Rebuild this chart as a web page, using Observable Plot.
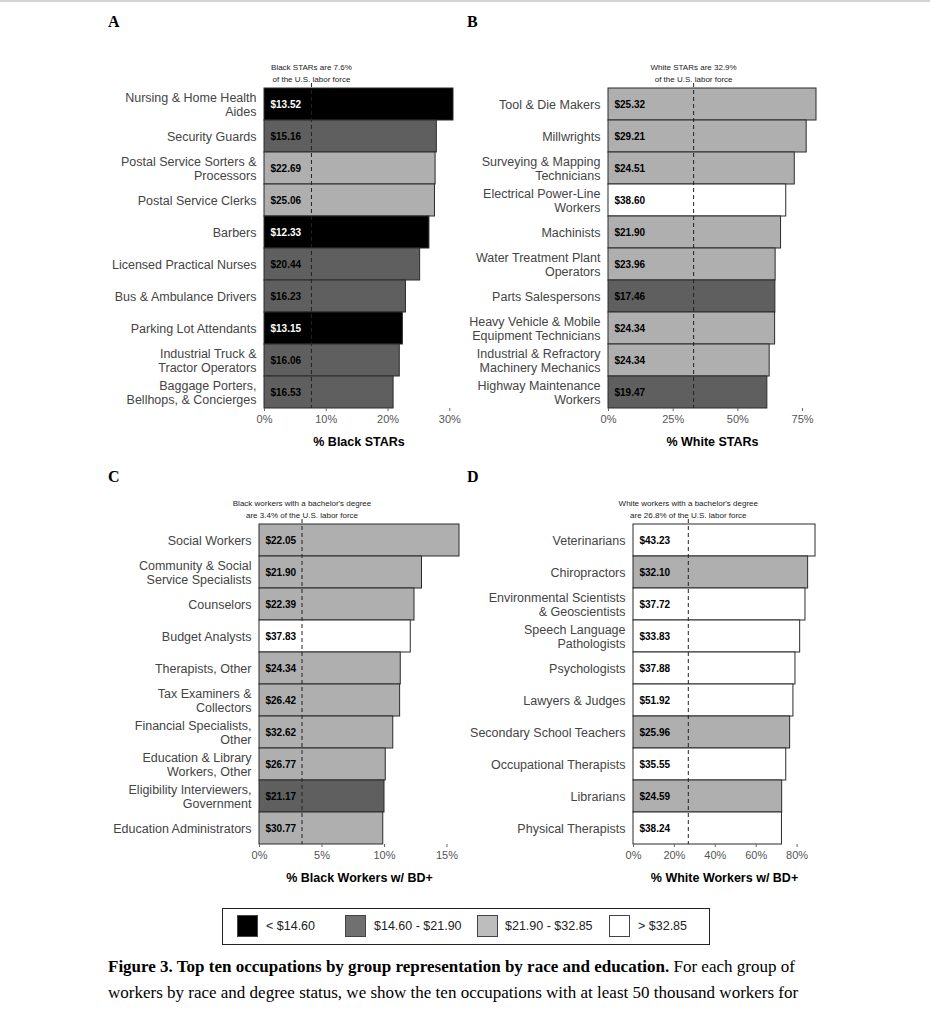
<!DOCTYPE html>
<html>
<head>
<meta charset="utf-8">
<script src="https://cdn.jsdelivr.net/npm/d3@7"></script>
<script src="https://cdn.jsdelivr.net/npm/@observablehq/plot@0.6"></script>
<style>
  html, body { margin: 0; padding: 0; background: #fff; }
  body { width: 930px; height: 1021px; position: relative; overflow: hidden; }
  .topline { position: absolute; left: 0; top: 0; width: 930px; height: 2px; background: #d4d4d4; }
  .panel { position: absolute; }
  .letter { position: absolute; font-family: "Liberation Serif", "Times New Roman", serif; font-weight: bold; font-size: 16px; color: #000; }
  .legend { position: absolute; left: 222px; top: 908px; width: 488px; height: 37px; border: 1px solid #222; box-sizing: border-box; font-family: "Liberation Sans", Arial, sans-serif; font-size: 12.5px; color: #222; }
  .sw { position: absolute; top: 6px; width: 21px; height: 22px; border: 1px solid #444; box-sizing: border-box; }
  .lt { position: absolute; top: 17px; transform: translateY(-50%); white-space: nowrap; }
  .caption { position: absolute; left: 108px; top: 954px; font-family: "Liberation Serif", "Times New Roman", serif; font-size: 17px; line-height: 26px; color: #000; white-space: nowrap; }
</style>
</head>
<body>
<div class="topline"></div>
<script>
// ---------- Data ----------
const catsA = ["Nursing & Home Health\nAides", "Security Guards", "Postal Service Sorters &\nProcessors", "Postal Service Clerks", "Barbers", "Licensed Practical Nurses", "Bus & Ambulance Drivers", "Parking Lot Attendants", "Industrial Truck &\nTractor Operators", "Baggage Porters,\nBellhops, & Concierges"];
const shareA = [30.6, 27.9, 27.7, 27.6, 26.7, 25.2, 22.9, 22.4, 21.9, 20.9];
const wageA = [13.52, 15.16, 22.69, 25.06, 12.33, 20.44, 16.23, 13.15, 16.06, 16.53];
const refA = 7.6;
const noteA = "Black STARs are 7.6%\nof the U.S. labor force";
const titleA = "% Black STARs";
const ticksA = [0, 10, 20, 30];

const catsB = ["Tool & Die Makers", "Millwrights", "Surveying & Mapping\nTechnicians", "Electrical Power-Line\nWorkers", "Machinists", "Water Treatment Plant\nOperators", "Parts Salespersons", "Heavy Vehicle & Mobile\nEquipment Technicians", "Industrial & Refractory\nMachinery Mechanics", "Highway Maintenance\nWorkers"];
const shareB = [80.4, 76.6, 72.0, 68.7, 66.7, 64.6, 64.5, 64.4, 62.3, 61.4];
const wageB = [25.32, 29.21, 24.51, 38.60, 21.90, 23.96, 17.46, 24.34, 24.34, 19.47];
const refB = 32.9;
const noteB = "White STARs are 32.9%\nof the U.S. labor force";
const titleB = "% White STARs";
const ticksB = [0, 25, 50, 75];

const catsC = ["Social Workers", "Community & Social\nService Specialists", "Counselors", "Budget Analysts", "Therapists, Other", "Tax Examiners &\nCollectors", "Financial Specialists,\nOther", "Education & Library\nWorkers, Other", "Eligibility Interviewers,\nGovernment", "Education Administrators"];
const shareC = [16.0, 13.0, 12.4, 12.1, 11.3, 11.25, 10.7, 10.1, 10.0, 9.9];
const wageC = [22.05, 21.90, 22.39, 37.83, 24.34, 26.42, 32.62, 26.77, 21.17, 30.77];
const refC = 3.4;
const noteC = "Black workers with a bachelor's degree\nare 3.4% of the U.S. labor force";
const titleC = "% Black Workers w/ BD+";
const ticksC = [0, 5, 10, 15];

const catsD = ["Veterinarians", "Chiropractors", "Environmental Scientists\n& Geoscientists", "Speech Language\nPathologists", "Psychologists", "Lawyers & Judges", "Secondary School Teachers", "Occupational Therapists", "Librarians", "Physical Therapists"];
const shareD = [89.0, 85.4, 84.1, 81.5, 79.2, 78.2, 76.6, 74.7, 72.7, 72.6];
const wageD = [43.23, 32.10, 37.72, 33.83, 37.88, 51.92, 25.96, 35.55, 24.59, 38.24];
const refD = 26.8;
const noteD = "White workers with a bachelor's degree\nare 26.8% of the U.S. labor force";
const titleD = "% White Workers w/ BD+";
const ticksD = [0, 20, 40, 60, 80];

const wageBreaks = [14.60, 21.90, 32.85];
const legendLabels = ["< $14.60", "$14.60 - $21.90", "$21.90 - $32.85", "> $32.85"];

// ---------- Styles / layout ----------
const barColors = ["#000000", "#5f5f5f", "#afafaf", "#ffffff"];
const legendColors = ["#000000", "#707070", "#bdbdbd", "#ffffff"];
const FONT = "'Liberation Sans', Arial, Helvetica, sans-serif";

const panels = [
  {letter: "A", cats: catsA, share: shareA, wage: wageA, ref: refA, note: noteA, title: titleA, ticks: ticksA, left: 100, top: 50, ml: 164, fw: 189, lx: 108, ly: 13},
  {letter: "B", cats: catsB, share: shareB, wage: wageB, ref: refB, note: noteB, title: titleB, ticks: ticksB, left: 460, top: 50, ml: 148, fw: 208, lx: 467, ly: 13},
  {letter: "C", cats: catsC, share: shareC, wage: wageC, ref: refC, note: noteC, title: titleC, ticks: ticksC, left: 100, top: 486, ml: 159, fw: 200, lx: 108, ly: 468},
  {letter: "D", cats: catsD, share: shareD, wage: wageD, ref: refD, note: noteD, title: titleD, ticks: ticksD, left: 460, top: 486, ml: 173, fw: 182, lx: 467, ly: 468}
];

function makePanel(p) {
  const rows = p.cats.map((c, i) => ({occ: c, share: p.share[i], wage: p.wage[i]}));
  const mt = 37, mb = 45, mr = 10, inner = 321;
  const plot = Plot.plot({
    width: p.ml + p.fw + mr,
    height: mt + inner + mb,
    marginLeft: p.ml, marginRight: mr, marginTop: mt, marginBottom: mb,
    style: {fontFamily: FONT, background: "transparent", overflow: "visible"},
    x: {domain: [0, d3.max(p.share)]},
    y: {domain: p.cats, padding: 0},
    color: {type: "threshold", domain: wageBreaks, range: barColors},
    marks: [
      Plot.barX(rows, {x: "share", y: "occ", fill: "wage", stroke: "#2b2b2b", strokeWidth: 1}),
      Plot.ruleX([p.ref], {stroke: "#222", strokeWidth: 1, strokeDasharray: "4,3", insetTop: -4}),
      Plot.text(rows.filter(d => d.wage < wageBreaks[0]), {y: "occ", frameAnchor: "left", dx: 6, textAnchor: "start", text: d => "$" + d.wage.toFixed(2), fill: "white", fontWeight: "bold", fontSize: 10}),
      Plot.text(rows.filter(d => d.wage >= wageBreaks[0]), {y: "occ", frameAnchor: "left", dx: 6, textAnchor: "start", text: d => "$" + d.wage.toFixed(2), fill: "black", fontWeight: "bold", fontSize: 10}),
      Plot.text([{x: p.ref, t: p.note}], {x: "x", text: "t", frameAnchor: "top", lineAnchor: "bottom", dy: -6, fontSize: 8, lineHeight: 1.5, fill: "#222"}),
      Plot.axisY({tickSize: 0, tickPadding: 8, fontSize: 12.5, fill: "#444", label: null, lineHeight: 1.1}),
      Plot.axisX({ticks: p.ticks, tickFormat: d => d + "%", tickSize: 3, tickPadding: 4, fontSize: 11, fill: "#555", stroke: "#666", label: null}),
      Plot.text([p.title], {frameAnchor: "bottom", dy: 37, fontWeight: "bold", fontSize: 12.5, fill: "#000"})
    ]
  });
  const wrap = document.createElement("div");
  wrap.className = "panel";
  wrap.style.left = p.left + "px";
  wrap.style.top = p.top + "px";
  wrap.appendChild(plot);
  document.body.appendChild(wrap);

  const L = document.createElement("div");
  L.className = "letter";
  L.style.left = p.lx + "px";
  L.style.top = p.ly + "px";
  L.textContent = p.letter;
  document.body.appendChild(L);
}

panels.forEach(makePanel);

// Legend
const legend = document.createElement("div");
legend.className = "legend";
const swLeft = [14, 122, 254, 386];
const txLeft = [43, 151, 282, 415];
legendLabels.forEach((lab, i) => {
  const s = document.createElement("div");
  s.className = "sw";
  s.style.left = swLeft[i] + "px";
  s.style.background = legendColors[i];
  legend.appendChild(s);
  const t = document.createElement("div");
  t.className = "lt";
  t.style.left = txLeft[i] + "px";
  t.textContent = lab;
  legend.appendChild(t);
});
document.body.appendChild(legend);

// Caption
const cap = document.createElement("div");
cap.className = "caption";
cap.innerHTML = "<b>Figure 3. Top ten occupations by group representation by race and education.</b> For each group of<br>workers by race and degree status, we show the ten occupations with at least 50 thousand workers for";
document.body.appendChild(cap);
</script>
</body>
</html>
